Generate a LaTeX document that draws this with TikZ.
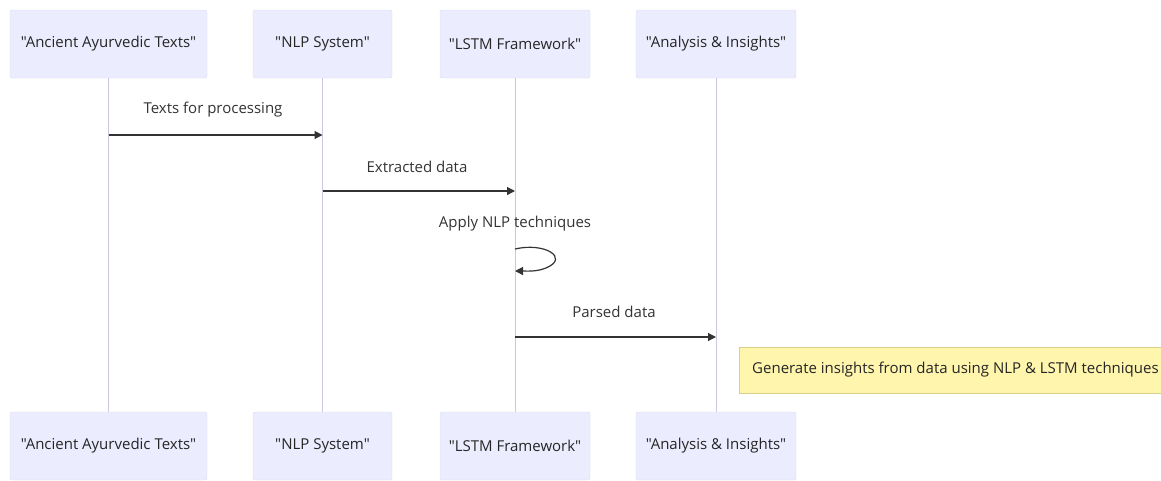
\documentclass[tikz,border=0pt]{standalone}
\usepackage{fontspec}
\setmainfont{Open Sans}[Ligatures=TeXOff]
\usetikzlibrary{arrows.meta}
\definecolor{actorfill}{HTML}{ECECFF}
\definecolor{actorline}{HTML}{DCDCF0}
\definecolor{lifeline}{HTML}{C8C8E4}
\definecolor{msgline}{HTML}{333333}
\definecolor{notefill}{HTML}{FFF5AD}
\definecolor{noteline}{HTML}{D6D08A}
\tikzset{
  actor/.style={draw=actorline, fill=actorfill, rounded corners=2pt, minimum height=68pt, inner sep=0pt, font=\fontsize{15}{17}\selectfont, text=black!85},
  life/.style={draw=lifeline, line width=1pt},
  msg/.style={draw=msgline, line width=1.2pt, -{Triangle[length=8pt,width=8pt]}},
  msglabel/.style={font=\fontsize{15}{17}\selectfont, text=black!80, inner sep=0pt},
  note/.style={draw=noteline, fill=notefill, minimum height=46pt, inner xsep=13pt, inner ysep=0pt, font=\fontsize{15}{17}\selectfont, text=black!85}
}
\begin{document}
\begin{tikzpicture}[x=1pt,y=-1pt]
\useasboundingbox (0,0) rectangle (1161,480);
% participants, top row
\node[actor, minimum width=197pt] (a1) at (108.5,44) {"Ancient Ayurvedic Texts"};
\node[actor, minimum width=139pt] (a2) at (322.5,44) {"NLP System"};
\node[actor, minimum width=150pt] (a3) at (515,44) {"LSTM Framework"};
\node[actor, minimum width=160pt] (a4) at (716,44) {"Analysis \& Insights"};
% participants, bottom row
\node[actor, minimum width=197pt] (b1) at (108.5,446) {"Ancient Ayurvedic Texts"};
\node[actor, minimum width=139pt] (b2) at (322.5,446) {"NLP System"};
\node[actor, minimum width=150pt] (b3) at (515,446) {"LSTM Framework"};
\node[actor, minimum width=160pt] (b4) at (716,446) {"Analysis \& Insights"};
% lifelines
\draw[life] (a1.south) -- (b1.north);
\draw[life] (a2.south) -- (b2.north);
\draw[life] (a3.south) -- (b3.north);
\draw[life] (a4.south) -- (b4.north);
% message anchors on lifelines
\coordinate (m1s) at (a1.south |- 0,135);
\coordinate (m1e) at (a2.south |- 0,135);
\coordinate (m2s) at (a2.south |- 0,191);
\coordinate (m2e) at (a3.south |- 0,191);
\coordinate (lps) at (a3.south |- 0,249);
\coordinate (lpe) at (a3.south |- 0,271);
\coordinate (m4s) at (a3.south |- 0,337);
\coordinate (m4e) at (a4.south |- 0,337);
% messages
\draw[msg] (m1s) -- (m1e);
\node[msglabel] (l1) at (213,110) {Texts for processing};
\draw[msg] (m2s) -- (m2e);
\node[msglabel] (l2) at (417,167) {Extracted data};
\node[msglabel] (l3) at (515,224) {Apply NLP techniques};
\draw[msg] (lps) .. controls (545,242) and (570,258) .. (546,268) .. controls (536,272) and (526,271) .. (lpe);
\draw[msg] (m4s) -- (m4e);
\node[msglabel] (l4) at (614,312) {Parsed data};
% note
\node[note, anchor=west] (n1) at (739,370) {Generate insights from data using NLP \& LSTM techniques\hspace{20pt}};
\end{tikzpicture}
\end{document}
